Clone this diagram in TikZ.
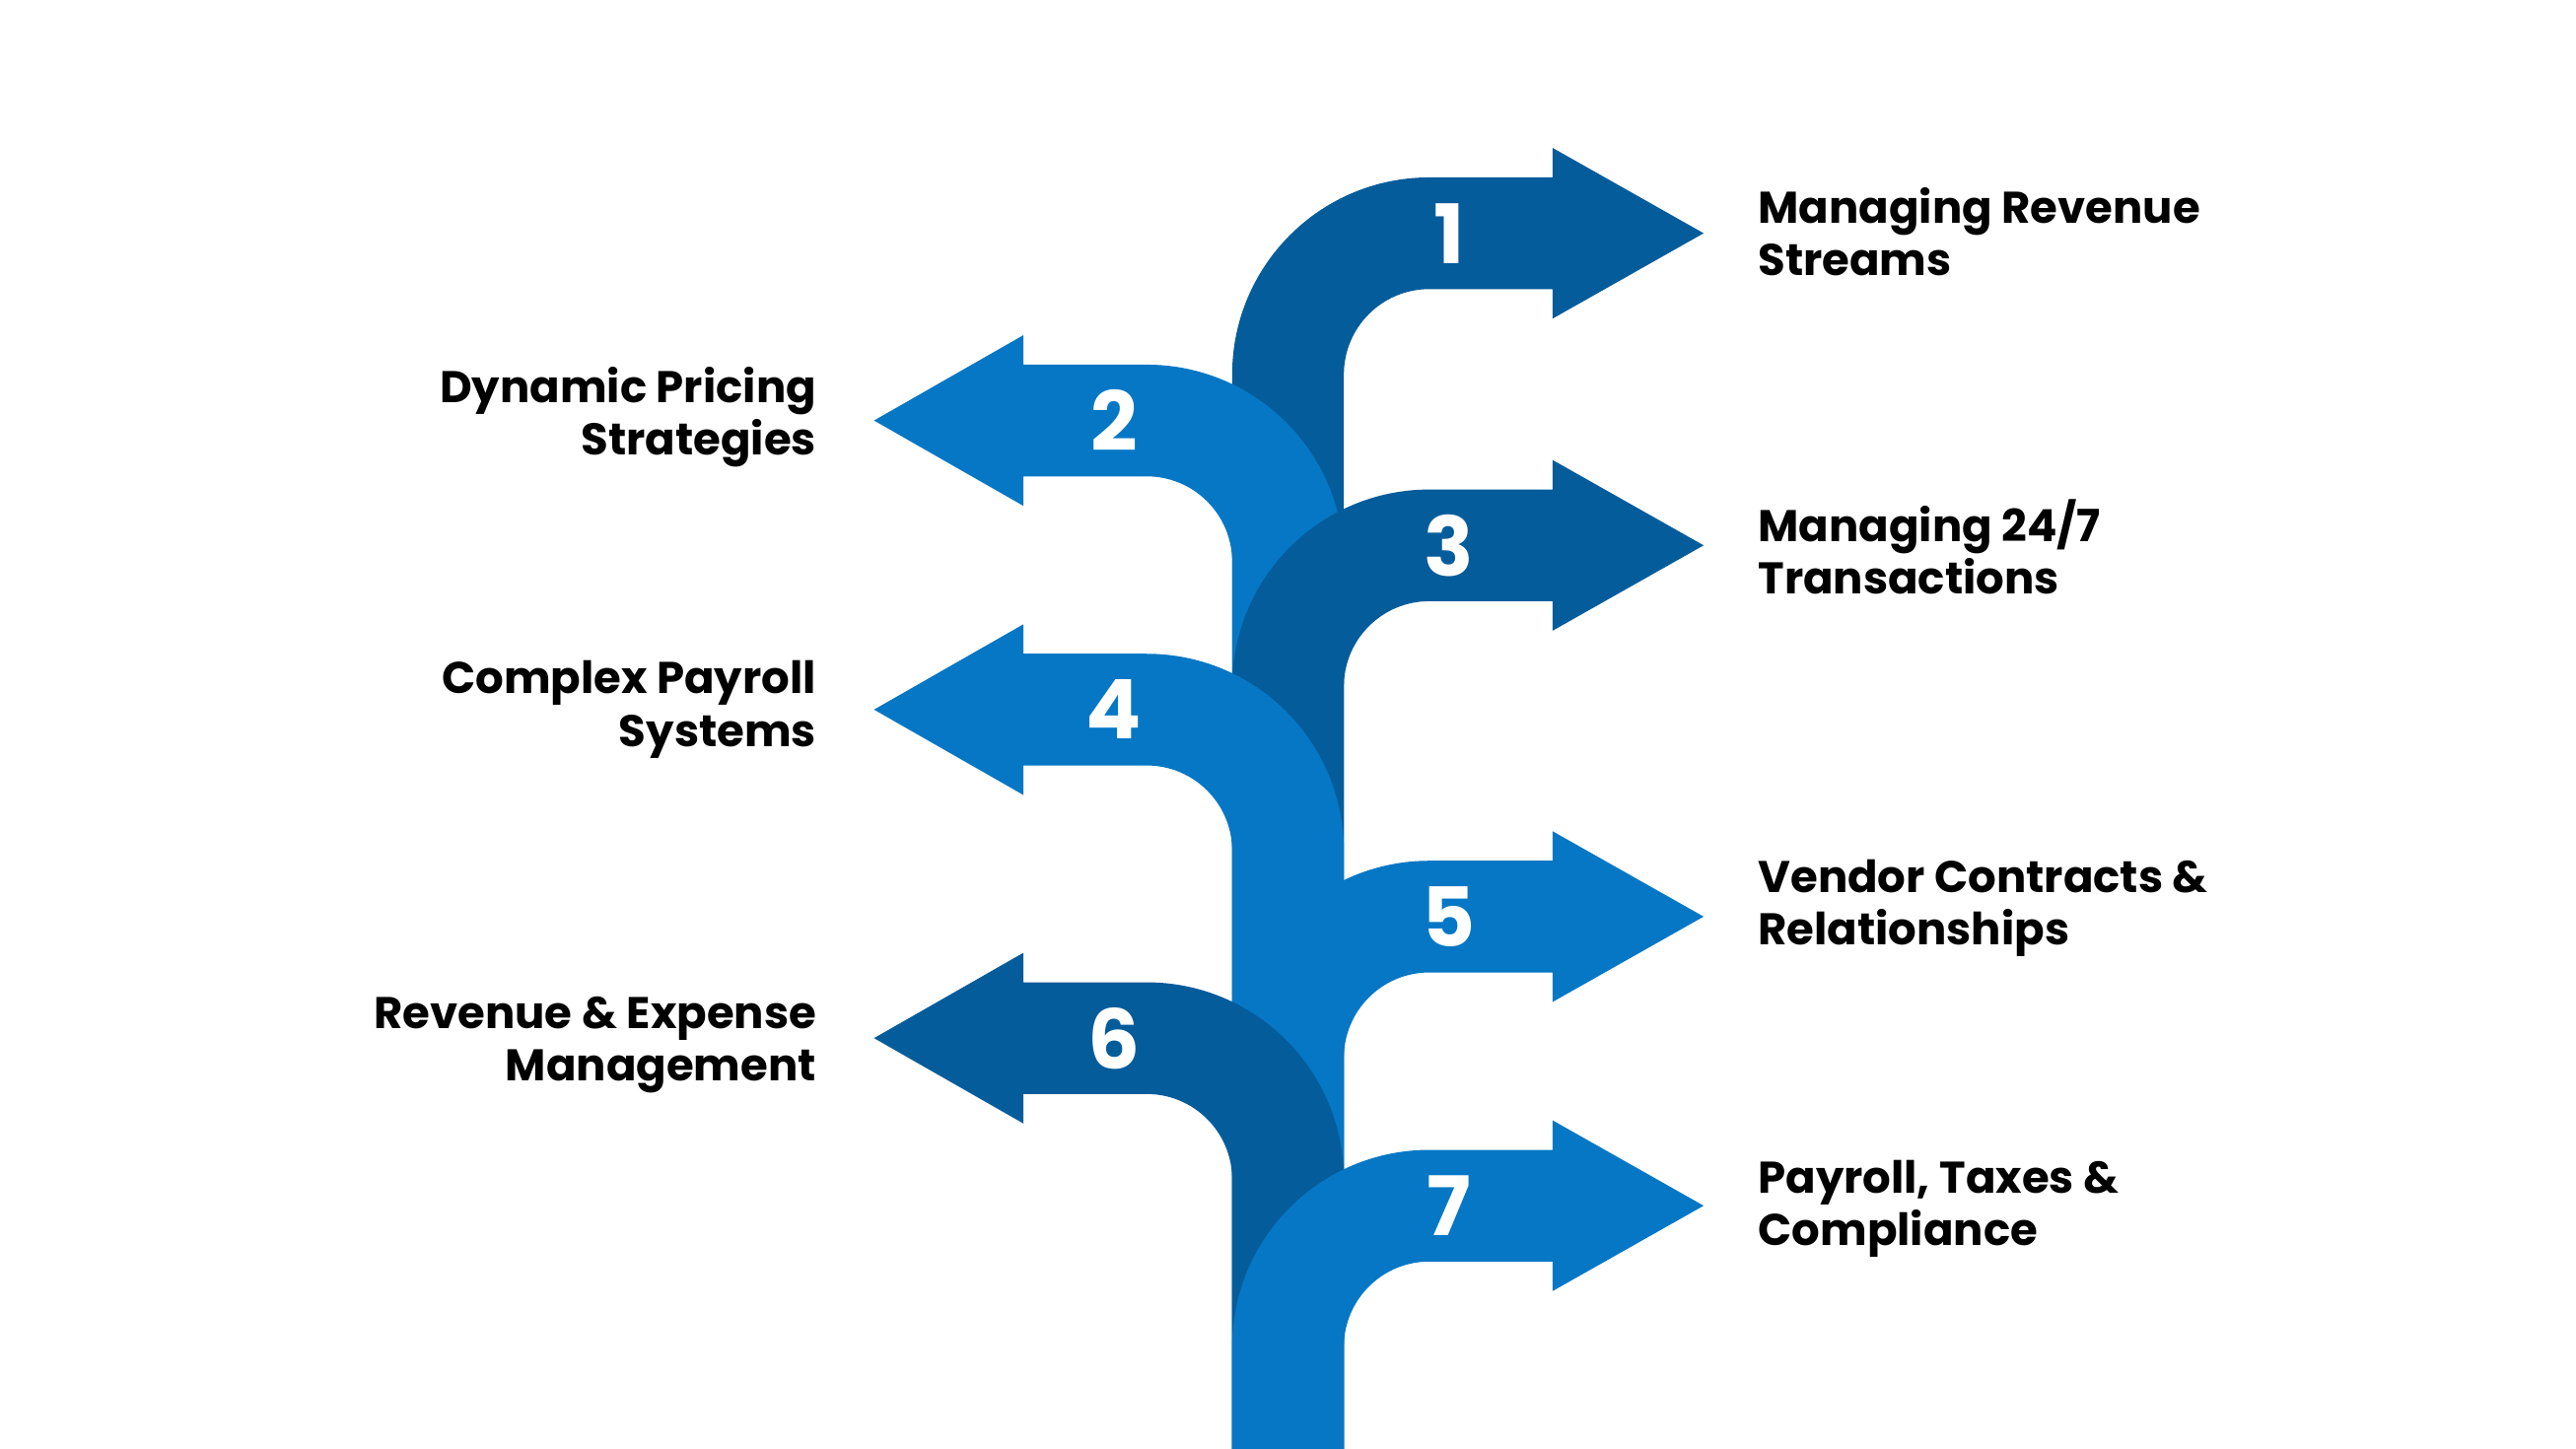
\documentclass[tikz,border=0pt]{standalone}
\usepackage{fontspec}
\setmainfont{Poppins}
\definecolor{dk}{HTML}{055C9B}
\definecolor{lt}{HTML}{0677C5}
\begin{document}
\begin{tikzpicture}[x=1pt,y=-1pt,
  lbl/.style={font=\fontsize{27}{32}\selectfont\bfseries,text=black,inner sep=0pt},
  num/.style={font=\fontsize{50}{50}\selectfont\bfseries,text=white,inner sep=0pt}]
\useasboundingbox (0,0) rectangle (1568,882);
\newcommand{\rarr}[3]{% cy, color, number
  \fill[#2] (750,882) -- (750,#1) arc[start angle=180,end angle=270,radius=120]
    -- (945,#1-120) -- (945,#1-138) -- (1037,#1-86) -- (945,#1-34) -- (945,#1-52)
    -- (870,#1-52) arc[start angle=270,end angle=180,radius=52] -- (818,882) -- cycle;
  \node[num] (n#3) at (882,#1-86) {#3};}
\newcommand{\larr}[3]{%
  \fill[#2] (818,882) -- (818,#1) arc[start angle=0,end angle=-90,radius=120]
    -- (623,#1-120) -- (623,#1-138) -- (532,#1-86) -- (623,#1-34) -- (623,#1-52)
    -- (698,#1-52) arc[start angle=-90,end angle=0,radius=52] -- (750,882) -- cycle;
  \node[num] (n#3) at (678,#1-86) {#3};}
\rarr{228}{dk}{1}
\larr{342}{lt}{2}
\rarr{418}{dk}{3}
\larr{518}{lt}{4}
\rarr{644}{lt}{5}
\larr{718}{dk}{6}
\rarr{820}{lt}{7}
\node[lbl,anchor=west,align=left] (t1) at (1070,141) {Managing Revenue\\Streams};
\node[lbl,anchor=east,align=right] (t2) at (497,254) {Dynamic Pricing\\Strategies};
\node[lbl,anchor=west,align=left] (t3) at (1070,333) {Managing 24/7\\Transactions};
\node[lbl,anchor=east,align=right] (t4) at (497,432) {Complex Payroll\\Systems};
\node[lbl,anchor=west,align=left] (t5) at (1070,553) {Vendor Contracts \&\\Relationships};
\node[lbl,anchor=east,align=right] (t6) at (497,636) {Revenue \& Expense\\Management};
\node[lbl,anchor=west,align=left] (t7) at (1070,736) {Payroll, Taxes \&\\Compliance};
\end{tikzpicture}
\end{document}
